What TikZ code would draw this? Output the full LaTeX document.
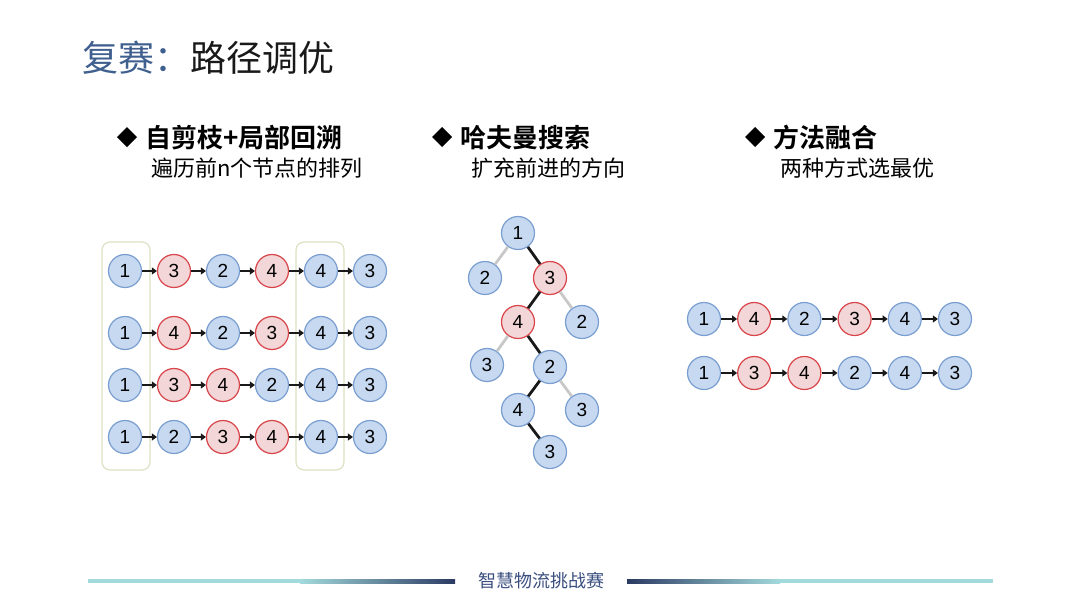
\documentclass[tikz,border=0pt]{standalone}
\usepackage{fontspec}
\setmainfont{Liberation Sans}
\newfontfamily\cjk{Noto Sans CJK SC}[BoldFont={Noto Sans CJK SC Bold}]
\usetikzlibrary{arrows.meta}
\definecolor{titleblue}{HTML}{3F5F8F}
\definecolor{bfill}{HTML}{C6D9F1}
\definecolor{bline}{HTML}{7B9ED0}
\definecolor{rfill}{HTML}{F3D6D7}
\definecolor{rline}{HTML}{D8454A}
\definecolor{grayedge}{HTML}{C8C8C8}
\definecolor{boxline}{HTML}{DCE2C2}
\definecolor{cyanline}{HTML}{A3DADC}
\definecolor{navyline}{HTML}{2B3A62}
\definecolor{foottext}{HTML}{3A4F80}
\tikzset{
  bn/.style={circle, draw=bline, fill=bfill, line width=1.2pt, minimum size=33pt, inner sep=0pt, font=\fontsize{19}{21}\selectfont},
  rn/.style={bn, draw=rline, fill=rfill},
  arr/.style={line width=2.8pt, draw=black!90, -{Triangle[length=5pt,width=7pt]}},
  blk/.style={line width=2.8pt, draw=black!90},
  gry/.style={line width=2.8pt, draw=grayedge},
  hbox/.style={draw=boxline, line width=1.2pt, rounded corners=8pt},
  head/.style={anchor=west, inner sep=0pt, font=\cjk\bfseries\fontsize{26}{30}\selectfont},
  sub/.style={anchor=west, inner sep=0pt, font=\cjk\fontsize{22}{26}\selectfont},
  dia/.style={fill=black}
}
\begin{document}
\begin{tikzpicture}[x=1pt,y=-1pt]
\useasboundingbox[fill=white] (0,0) rectangle (1080,608);
% title
\node[anchor=west, inner sep=0pt, font=\cjk\fontsize{36}{40}\selectfont, text=black!90] (title) at (82,58) {{\color{titleblue}复赛：}路径调优};
% headings
\fill[dia] (127,127) -- (137,137) -- (127,147) -- (117,137) -- cycle;
\node[head] (h1) at (145,138) {自剪枝+局部回溯};
\node[sub] (s1) at (151,168) {遍历前n个节点的排列};
\fill[dia] (442,127) -- (452,137) -- (442,147) -- (432,137) -- cycle;
\node[head] (h2) at (460,138) {哈夫曼搜索};
\node[sub] (s2) at (471,168) {扩充前进的方向};
\fill[dia] (755,127) -- (765,137) -- (755,147) -- (745,137) -- cycle;
\node[head] (h3) at (773,138) {方法融合};
\node[sub] (s3) at (780,168) {两种方式选最优};
% highlight boxes
\draw[hbox] (102,242) rectangle (150,470);
\draw[hbox] (296,242) rectangle (344,470);
% left grid
\foreach \t/\n [count=\i] in {bn/1,rn/3,bn/2,rn/4,bn/4,bn/3}
  \node[\t] (La\i) at ({125+49*(\i-1)},271) {\n};
\foreach \t/\n [count=\i] in {bn/1,rn/4,bn/2,rn/3,bn/4,bn/3}
  \node[\t] (Lb\i) at ({125+49*(\i-1)},333) {\n};
\foreach \t/\n [count=\i] in {bn/1,rn/3,rn/4,bn/2,bn/4,bn/3}
  \node[\t] (Lc\i) at ({125+49*(\i-1)},385) {\n};
\foreach \t/\n [count=\i] in {bn/1,bn/2,rn/3,rn/4,bn/4,bn/3}
  \node[\t] (Ld\i) at ({125+49*(\i-1)},437) {\n};
\foreach \rw in {La,Lb,Lc,Ld}{
  \foreach \a/\b in {1/2,2/3,3/4,4/5,5/6}{
    \draw[arr] (\rw\a) -- (\rw\b);
  }
}
% tree
\node[bn] (T1) at (518,233) {1};
\node[bn] (T2) at (485,278) {2};
\node[rn] (T3) at (550,278) {3};
\node[rn] (T4) at (518,322) {4};
\node[bn] (T5) at (582,322) {2};
\node[bn] (T6) at (487,365) {3};
\node[bn] (T7) at (550,367) {2};
\node[bn] (T8) at (518,410) {4};
\node[bn] (T9) at (582,410) {3};
\node[bn] (T10) at (550,452) {3};
\draw[gry] (T1) -- (T2);
\draw[blk] (T1) -- (T3);
\draw[blk] (T3) -- (T4);
\draw[gry] (T3) -- (T5);
\draw[gry] (T4) -- (T6);
\draw[blk] (T4) -- (T7);
\draw[blk] (T7) -- (T8);
\draw[gry] (T7) -- (T9);
\draw[blk] (T8) -- (T10);
% right rows
\foreach \t/\n [count=\i] in {bn/1,rn/4,bn/2,rn/3,bn/4,bn/3}
  \node[\t] (Ra\i) at ({704+50.2*(\i-1)},319) {\n};
\foreach \t/\n [count=\i] in {bn/1,rn/3,rn/4,bn/2,bn/4,bn/3}
  \node[\t] (Rb\i) at ({704+50.2*(\i-1)},373) {\n};
\foreach \rw in {Ra,Rb}{
  \foreach \a/\b in {1/2,2/3,3/4,4/5,5/6}{
    \draw[arr] (\rw\a) -- (\rw\b);
  }
}
% footer
\fill[cyanline] (88,579) rectangle (300.5,583);
\shade[left color=cyanline, right color=navyline] (300,579) rectangle (455,583);
\shade[left color=navyline, right color=cyanline] (627,579) rectangle (780,583);
\fill[cyanline] (779.5,579) rectangle (993,583);
\node[inner sep=0pt, font=\cjk\fontsize{18}{20}\selectfont, text=foottext] (foot) at (541,581) {智慧物流挑战赛};
\end{tikzpicture}
\end{document}
